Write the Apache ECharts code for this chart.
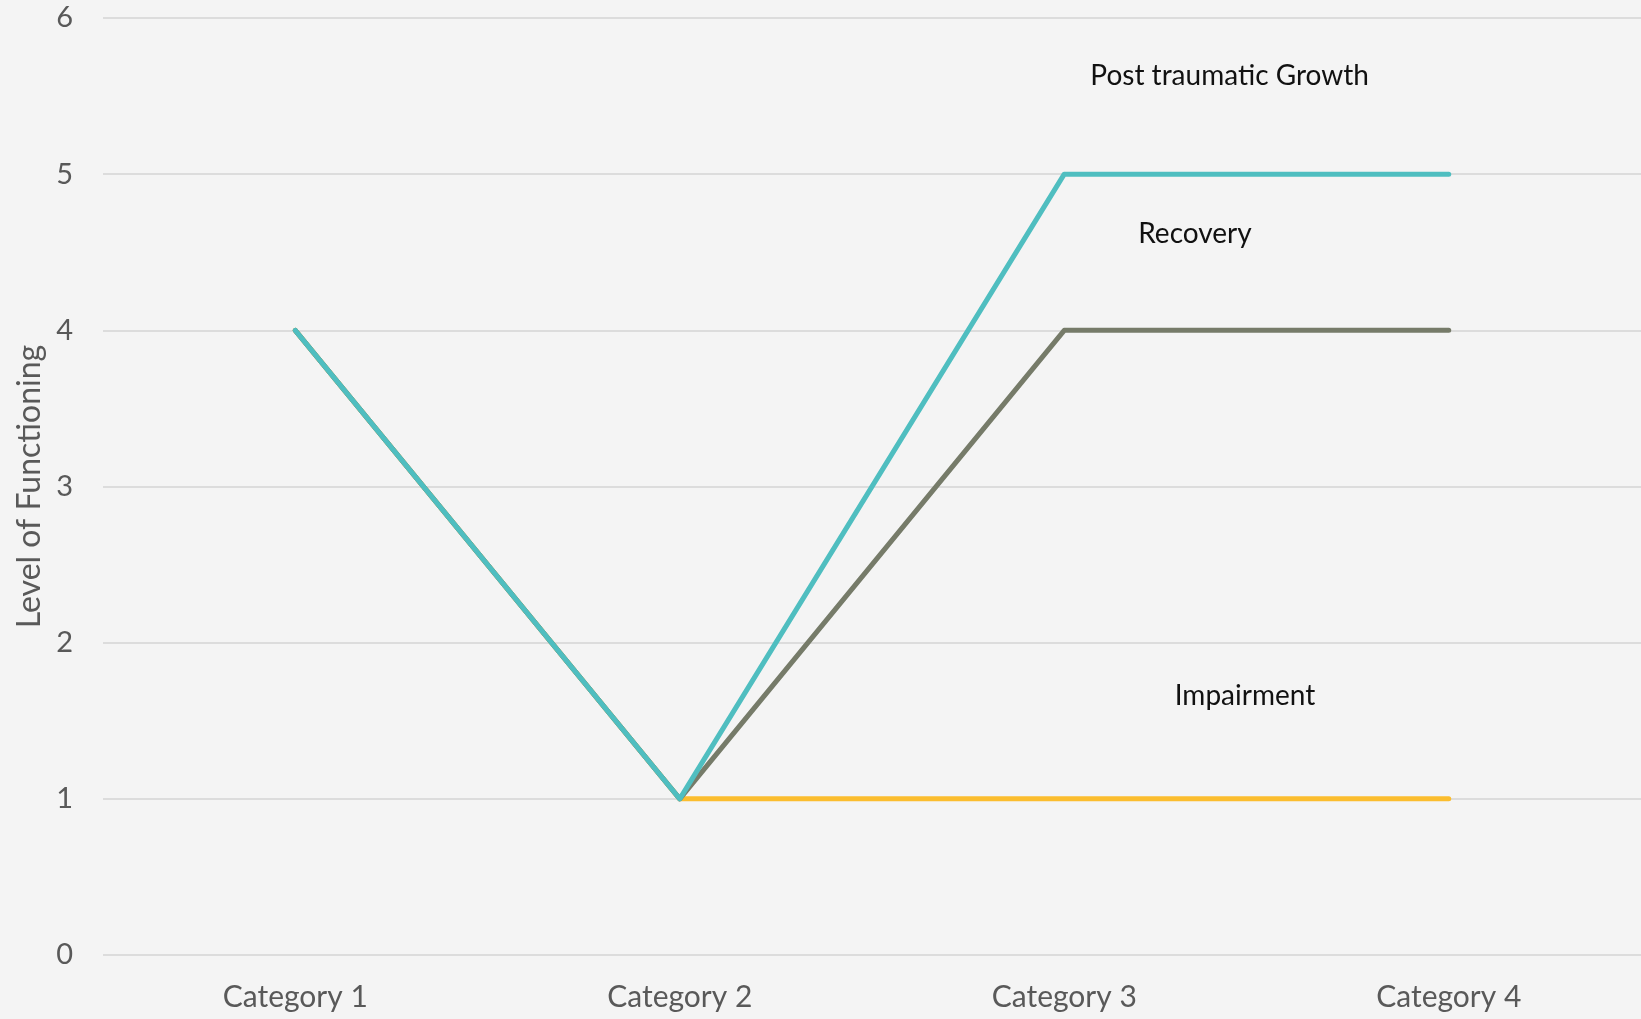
<!DOCTYPE html>
<html><head><meta charset="utf-8">
<script src="https://cdn.jsdelivr.net/npm/echarts@6/dist/echarts.min.js"></script>
<style>html,body{margin:0;padding:0;background:#f4f4f4}#c{width:1641px;height:1019px}</style>
</head><body><div id="c"></div>
<script>
const categories = ['Category 1','Category 2','Category 3','Category 4'];
const impairment = [4,1,1,1];
const recovery = [4,1,4,4];
const growth = [4,1,5,5];
const yTicks = [0,1,2,3,4,5,6];
// annotation positions in data space: [fractional category index, value]
const annotations = [
  {text:'Post traumatic Growth', x:2.43, y:5.63},
  {text:'Recovery', x:2.34, y:4.62},
  {text:'Impairment', x:2.47, y:1.66}
];
const FONT = 'Lato, "Open Sans", sans-serif';
const chart = echarts.init(document.getElementById('c'));
const lineStyle = (c)=>({color:c,width:5,cap:'round',join:'round'});
chart.setOption({
  backgroundColor:'#f4f4f4',
  animation:false,
  grid:{left:103,right:0,top:18,bottom:64},
  xAxis:{type:'category',data:categories,boundaryGap:true,
    axisLine:{show:false},axisTick:{show:false},
    axisLabel:{color:'#595959',fontSize:30,fontFamily:FONT,margin:27}},
  yAxis:{type:'value',min:yTicks[0],max:yTicks[yTicks.length-1],interval:1,
    name:'Level of Functioning',nameLocation:'middle',nameGap:56,
    nameTextStyle:{color:'#595959',fontSize:32,fontFamily:FONT},
    axisLabel:{color:'#595959',fontSize:29,fontFamily:FONT,margin:30,formatter:v=>yTicks.includes(v)?String(v):''},
    splitLine:{lineStyle:{color:'#dcdcdc',width:2}}},
  series:[
    {name:'Impairment',type:'line',data:impairment,symbol:'none',lineStyle:lineStyle('#fbbd2e'),z:2},
    {name:'Recovery',type:'line',data:recovery,symbol:'none',lineStyle:lineStyle('#767b69'),z:3},
    {name:'Post traumatic Growth',type:'line',data:growth,symbol:'none',lineStyle:lineStyle('#4fbec0'),z:4}
  ]
});
function px(a){
  const i = Math.floor(a.x), f = a.x - i;
  const p0 = chart.convertToPixel({gridIndex:0},[categories[i],a.y]);
  const p1 = chart.convertToPixel({gridIndex:0},[categories[Math.min(i+1,categories.length-1)],a.y]);
  return [p0[0]+(p1[0]-p0[0])*f, p0[1]];
}
chart.setOption({graphic:annotations.map(a=>{const p=px(a);return {type:'text',x:p[0],y:p[1],
  style:{text:a.text,fill:'#111',font:'28px '+FONT,textAlign:'center',textVerticalAlign:'middle'}};})});
</script></body></html>
